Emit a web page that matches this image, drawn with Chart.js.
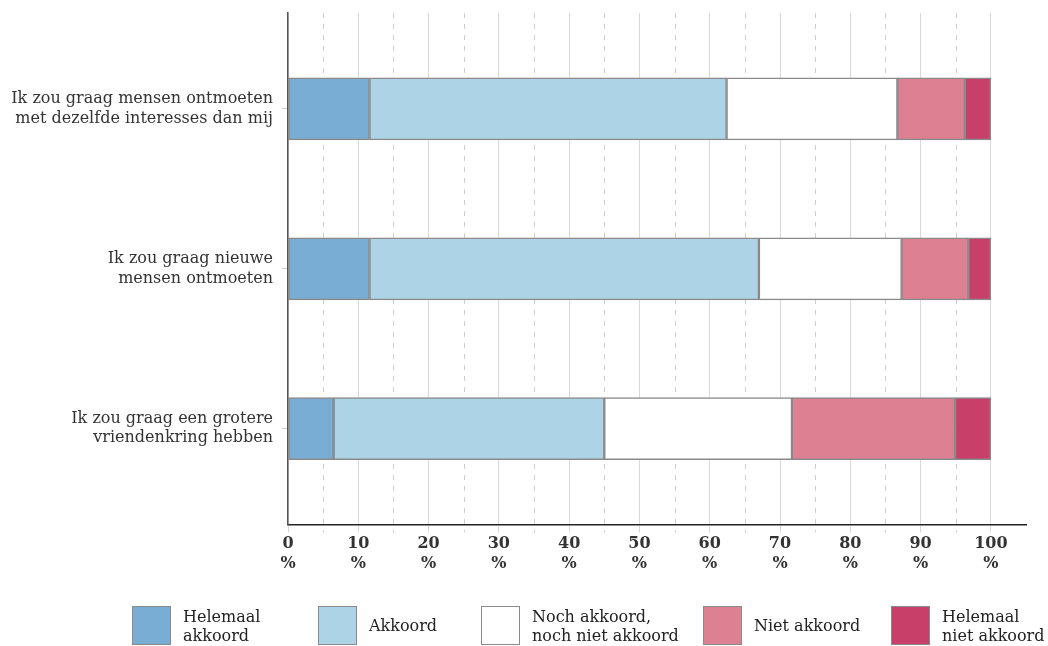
<!DOCTYPE html>
<html>
<head>
<meta charset="utf-8">
<script src="https://cdn.jsdelivr.net/npm/chart.js@4"></script>
<style>
  html, body { margin: 0; padding: 0; background: #fff; }
  #wrap { position: relative; width: 1048px; height: 646px; }
  #chart { position: absolute; left: 0; top: 0; }
  #legend { position: absolute; left: 0; top: 606px; width: 1048px; height: 40px;
    font-family: 'DejaVu Serif', 'Liberation Serif', serif; font-size: 16px; line-height: 19px; color: #222; }
  .item { position: absolute; top: 0; display: flex; align-items: center; height: 39px; }
  .box { width: 37px; height: 37px; border: 1.5px solid #8a8a8a; margin-right: 12px; flex: none; }
  .item:nth-child(1) { left: 132px; }
  .item:nth-child(2) { left: 318px; }
  .item:nth-child(3) { left: 481px; }
  .item:nth-child(4) { left: 703px; }
  .item:nth-child(5) { left: 891px; }
</style>
</head>
<body>
<div id="wrap">
  <canvas id="chart" width="1048" height="646"></canvas>
  <div id="legend"></div>
</div>
<script>
// ---------- DATA ----------
let questions = [
  ["Ik zou graag mensen ontmoeten", "met dezelfde interesses dan mij"],
  ["Ik zou graag nieuwe", "mensen ontmoeten"],
  ["Ik zou graag een grotere", "vriendenkring hebben"]
];
let seriesNames = [
  ["Helemaal", "akkoord"],
  ["Akkoord"],
  ["Noch akkoord,", "noch niet akkoord"],
  ["Niet akkoord"],
  ["Helemaal", "niet akkoord"]
];
let helemaalAkkoord = [11.6, 11.6, 6.5];
let akkoord = [50.8, 55.4, 38.5];
let neutraal = [24.3, 20.3, 26.7];
let nietAkkoord = [9.6, 9.5, 23.2];
let helemaalNiet = [3.7, 3.2, 5.1];
let colors = ["#7aadd4", "#acd4e6", "#ffffff", "#dc8092", "#c83f6a"];
let xTicks = [0, 10, 20, 30, 40, 50, 60, 70, 80, 90, 100];
let dashedTicks = [5, 15, 25, 35, 45, 55, 65, 75, 85, 95];

let seriesValues = [helemaalAkkoord, akkoord, neutraal, nietAkkoord, helemaalNiet];
let font = "'DejaVu Serif', 'Liberation Serif', serif";

// ---------- dashed half-step grid lines ----------
let dashedGrid = {
  id: "dashedGrid",
  beforeDatasetsDraw(chart) {
    let ctx = chart.ctx;
    let area = chart.chartArea;
    let x = chart.scales.x;
    ctx.save();
    ctx.strokeStyle = "#cfcfcf";
    ctx.lineWidth = 1;
    ctx.setLineDash([5, 6]);
    dashedTicks.forEach(v => {
      let px = Math.round(x.getPixelForValue(v)) + 0.5;
      ctx.beginPath();
      ctx.moveTo(px, area.top);
      ctx.lineTo(px, area.bottom + 8);
      ctx.stroke();
    });
    ctx.restore();
  }
};

new Chart(document.getElementById("chart"), {
  type: "bar",
  data: {
    labels: questions.map((q, i) => i),
    datasets: seriesValues.map((vals, i) => ({
      label: seriesNames[i].join(" "),
      data: vals,
      backgroundColor: colors[i],
      borderColor: "#8a8a8a",
      borderWidth: 1.5,
      borderSkipped: false,
      barThickness: 62
    }))
  },
  options: {
    indexAxis: "y",
    responsive: false,
    animation: false,
    layout: { padding: { top: 13, right: 22, left: 0, bottom: 71 } },
    scales: {
      x: {
        type: "linear",
        stacked: true,
        min: 0,
        max: 105,
        afterBuildTicks: scale => { scale.ticks = xTicks.map(v => ({ value: v })); },
        grid: { color: "#d9d9d9", lineWidth: 1, tickLength: 8, tickColor: "#d9d9d9" },
        border: { color: "#222", width: 1.5 },
        ticks: {
          color: "#333",
          font: { family: font, size: 16, weight: "bold" },
          padding: 2,
          maxRotation: 0,
          callback: v => [String(v), "%"]
        }
      },
      y: {
        type: "linear",
        stacked: true,
        reverse: true,
        offset: false,
        min: -0.6,
        max: 2.6,
        afterBuildTicks: scale => { scale.ticks = questions.map((q, i) => ({ value: i })); },
        afterFit: scale => { scale.width = 288; scale.paddingTop = 0; scale.paddingBottom = 0; },
        grid: { drawOnChartArea: false, offset: false, tickLength: 6, color: "#cccccc" },
        border: { color: "#555", width: 1.5 },
        ticks: {
          color: "#333",
          font: { family: font, size: 16 },
          padding: 9,
          callback: v => questions[v]
        }
      }
    },
    plugins: {
      tooltip: { enabled: false },
      legend: { display: false }
    }
  },
  plugins: [dashedGrid]
});

// ---------- LEGEND ----------
let legendEl = document.getElementById("legend");
seriesNames.forEach((name, i) => {
  let item = document.createElement("div");
  item.className = "item";
  let box = document.createElement("div");
  box.className = "box";
  box.style.background = colors[i];
  let label = document.createElement("div");
  label.innerHTML = name.join("<br>");
  item.appendChild(box);
  item.appendChild(label);
  legendEl.appendChild(item);
});
</script>
</body>
</html>
